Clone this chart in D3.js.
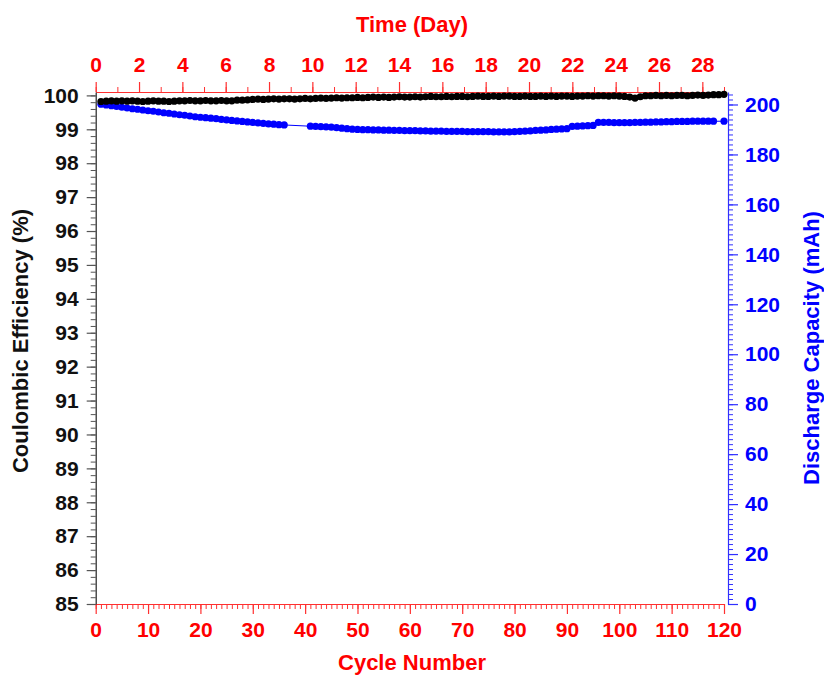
<!DOCTYPE html>
<html>
<head>
<meta charset="utf-8">
<script src="https://cdn.jsdelivr.net/npm/d3@7"></script>
<style>
  body { margin: 0; background: #fff; }
  svg { display: block; font-family: "Liberation Sans", Arial, sans-serif; font-weight: bold; }
</style>
</head>
<body>
<div id="chart"></div>
<script>
// cycle numbers 1..120
const cycles = d3.range(1, 121);

// coulombic efficiency (%), one per cycle
const efficiency = [
  99.82, 99.83, 99.84, 99.83, 99.84, 99.83, 99.84, 99.83, 99.82, 99.83,
  99.84, 99.83, 99.83, 99.82, 99.83, 99.84, 99.84, 99.85, 99.84, 99.84,
  99.85, 99.84, 99.84, 99.85, 99.84, 99.84, 99.86, 99.86, 99.87, 99.88,
  99.89, 99.88, 99.89, 99.90, 99.89, 99.90, 99.90, 99.89, 99.90, 99.91,
  99.90, 99.91, 99.92, 99.91, 99.92, 99.93, 99.92, 99.93, 99.93, 99.94,
  99.93, 99.94, 99.95, 99.94, 99.95, 99.94, 99.95, 99.96, 99.95, 99.95,
  99.96, 99.95, 99.96, 99.97, 99.96, 99.96, 99.97, 99.96, 99.97, 99.97,
  99.96, 99.97, 99.98, 99.97, 99.97, 99.98, 99.97, 99.98, 99.98, 99.97,
  99.97, 99.98, 99.97, 99.97, 99.98, 99.97, 99.98, 99.97, 99.98, 99.98,
  99.97, 99.98, 99.98, 99.99, 99.98, 99.99, 99.99, 99.98, 99.99, 99.98,
  99.97, 99.95, 99.92, 99.96, 99.99, 99.99, 100.00, 99.99, 100.00, 99.99,
  100.00, 100.00, 99.99, 100.00, 100.01, 100.00, 100.01, 100.02, 100.02, 100.03
];

// discharge capacity (mAh), null where no point was recorded
const capacity = [
  200.1, 199.8, 199.5, 199.2, 198.9, 198.6, 198.3, 198.1, 197.8, 197.5,
  197.3, 197.0, 196.7, 196.5, 196.2, 195.9, 195.7, 195.4, 195.1, 194.9,
  194.7, 194.5, 194.3, 194.0, 193.8, 193.6, 193.4, 193.2, 193.0, 192.8,
  192.6, 192.4, 192.2, 192.1, 191.9, 191.8, null, null, null, null,
  191.3, 191.2, 191.1, 191.0, 190.9, 190.7, 190.5, 190.3, 190.1, 190.0,
  189.9, 189.9, 189.8, 189.8, 189.7, 189.7, 189.6, 189.6, 189.5, 189.5,
  189.5, 189.4, 189.4, 189.3, 189.3, 189.3, 189.2, 189.2, 189.2, 189.2,
  189.1, 189.1, 189.1, 189.1, 189.1, 189.0, 189.0, 189.0, 189.0, 189.1,
  189.2, 189.3, 189.4, 189.6, 189.7, 189.8, 190.0, 190.1, 190.2, 190.3,
  191.2, 191.3, 191.4, 191.5, 191.6, 192.8, 192.8, 192.8, 192.7, 192.7,
  192.7, 192.7, 192.8, 192.8, 192.9, 192.9, 193.0, 193.0, 193.1, 193.1,
  193.2, 193.2, 193.2, 193.3, 193.3, 193.3, 193.3, 193.3, null, 193.3
];

// tick values
const cycleTicks = d3.range(0, 121, 10);
const cycleMinor = d3.range(0, 121, 1);
const dayTicks = d3.range(0, 29, 2);
const dayMinor = d3.range(0, 30, 1);
const effTicks = d3.range(85, 100.5, 1);
const effMinor = d3.range(85, 100.05, 0.2);
const capTicks = d3.range(0, 201, 20);
const capMinor = d3.range(0, 205, 2);

const W = 824, H = 675;
const margin = {left: 95.7, right: 724, top: 92, bottom: 604};
const rightAxisX = 728;
const tickFont = 21, titleFont = 22, dotR = 3.6;

const svg = d3.select("#chart").append("svg")
  .attr("width", W).attr("height", H);

const x = d3.scaleLinear().domain([0, 120]).range([margin.left, margin.right]);
const xDay = d3.scaleLinear().domain([0, 29]).range([margin.left, margin.right]);
const yEff = d3.scaleLinear().domain([85, 100.1]).range([margin.bottom, margin.top]);
const yCap = d3.scaleLinear().domain([0, 205]).range([margin.bottom, margin.top]);

function styleAxis(g, color, tickColor, lineColor) {
  g.select(".domain").attr("stroke", lineColor).attr("stroke-width", 1.2);
  g.selectAll(".tick line").attr("stroke", tickColor).attr("stroke-width", 1.2);
  g.selectAll(".tick text").attr("fill", color)
    .attr("font-size", tickFont).attr("font-weight", "bold")
    .attr("font-family", "'Liberation Sans', Arial, sans-serif");
  g.attr("font-family", null).attr("font-size", null);
}

// minor ticks first so major ones draw on top
svg.append("g").attr("transform", `translate(0,${margin.bottom})`)
  .call(d3.axisBottom(x).tickValues(cycleMinor).tickSize(5).tickSizeOuter(0).tickFormat(""))
  .call(g => { g.select(".domain").remove(); g.selectAll("line").attr("stroke", "#ff3030"); });
svg.append("g").attr("transform", `translate(0,${margin.top})`)
  .call(d3.axisTop(xDay).tickValues(dayMinor.filter(d => d <= 29)).tickSize(5).tickSizeOuter(0).tickFormat(""))
  .call(g => { g.select(".domain").remove(); g.selectAll("line").attr("stroke", "#ff3030"); });
svg.append("g").attr("transform", `translate(${margin.left},0)`)
  .call(d3.axisLeft(yEff).tickValues(effMinor).tickSize(5).tickSizeOuter(0).tickFormat(""))
  .call(g => { g.select(".domain").remove(); g.selectAll("line").attr("stroke", "#555"); });
svg.append("g").attr("transform", `translate(${rightAxisX},0)`)
  .call(d3.axisRight(yCap).tickValues(capMinor).tickSize(5).tickSizeOuter(0).tickFormat(""))
  .call(g => { g.select(".domain").remove(); g.selectAll("line").attr("stroke", "#3030ff"); });

// major axes
svg.append("g").attr("transform", `translate(0,${margin.bottom})`)
  .call(d3.axisBottom(x).tickValues(cycleTicks).tickSize(10).tickSizeOuter(0).tickPadding(8))
  .call(g => styleAxis(g, "#ff0000", "#ff3030", "#ff3030"));
svg.append("g").attr("transform", `translate(0,${margin.top})`)
  .call(d3.axisTop(xDay).tickValues(dayTicks).tickSize(10).tickSizeOuter(0).tickPadding(10))
  .call(g => styleAxis(g, "#ff0000", "#ff3030", "#ff3030"));
svg.append("g").attr("transform", `translate(${margin.left},0)`)
  .call(d3.axisLeft(yEff).tickValues(effTicks).tickSize(9).tickSizeOuter(0).tickPadding(8))
  .call(g => styleAxis(g, "#111", "#555", "#222"));
svg.append("g").attr("transform", `translate(${rightAxisX},0)`)
  .call(d3.axisRight(yCap).tickValues(capTicks).tickSize(10).tickSizeOuter(0).tickPadding(7))
  .call(g => styleAxis(g, "#0000ff", "#3030ff", "#3030ff"));

// axis titles
svg.append("text").attr("x", 412).attr("y", 32).attr("text-anchor", "middle")
  .attr("fill", "#ff0000").attr("font-size", titleFont).text("Time (Day)");
svg.append("text").attr("x", 412).attr("y", 670).attr("text-anchor", "middle")
  .attr("fill", "#ff0000").attr("font-size", titleFont).text("Cycle Number");
svg.append("text").attr("transform", "translate(28,341) rotate(-90)").attr("text-anchor", "middle")
  .attr("fill", "#111").attr("font-size", titleFont).text("Coulombic Efficiency (%)");
svg.append("text").attr("transform", "translate(819,348) rotate(-90)").attr("text-anchor", "middle")
  .attr("fill", "#0000ff").attr("font-size", titleFont).text("Discharge Capacity (mAh)");

// series
const effPts = cycles.map((c, i) => ({c, v: efficiency[i]}));
const capPts = cycles.map((c, i) => ({c, v: capacity[i]})).filter(d => d.v != null);

svg.append("path").datum(capPts)
  .attr("fill", "none").attr("stroke", "#0000ff").attr("stroke-width", 1)
  .attr("d", d3.line().x(d => x(d.c)).y(d => yCap(d.v)));
svg.append("g").selectAll("circle").data(capPts).join("circle")
  .attr("cx", d => x(d.c)).attr("cy", d => yCap(d.v)).attr("r", dotR)
  .attr("fill", "#0000ff");

svg.append("path").datum(effPts)
  .attr("fill", "none").attr("stroke", "#000").attr("stroke-width", 1)
  .attr("d", d3.line().x(d => x(d.c)).y(d => yEff(d.v)));
svg.append("g").selectAll("circle").data(effPts).join("circle")
  .attr("cx", d => x(d.c)).attr("cy", d => yEff(d.v)).attr("r", dotR)
  .attr("fill", "#000");
</script>
</body>
</html>
